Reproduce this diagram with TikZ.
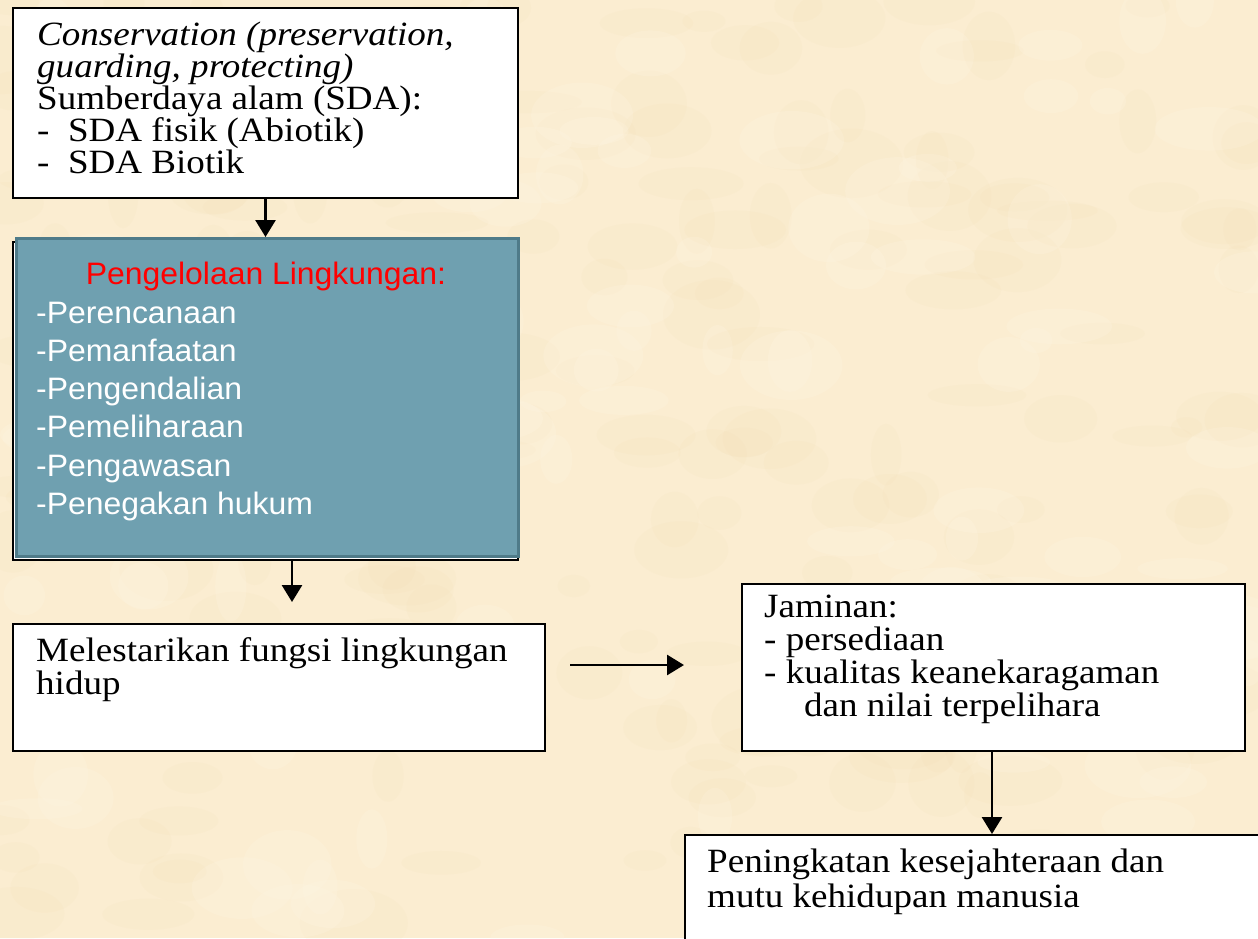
\documentclass[tikz,border=0pt]{standalone}
\usepackage{fontspec}
\setmainfont{Liberation Serif}[FakeStretch=1.09]
\newfontfamily\arialfont{Liberation Sans}[FakeStretch=1.03]
\usetikzlibrary{arrows.meta}
\definecolor{bgcream}{HTML}{FBEDD1}
\definecolor{bgtan}{HTML}{E9CB98}
\definecolor{bglight}{HTML}{FFF7E6}
\definecolor{tealfill}{HTML}{6FA0B0}
\definecolor{tealedge}{HTML}{4F7B89}
\definecolor{headred}{HTML}{FF0000}
\begin{document}
\begin{tikzpicture}[x=1pt,y=-1pt,
  box/.style={draw=black, line width=2pt, fill=white, inner sep=0pt, anchor=north west},
  arr/.style={line width=2.8pt, -{Triangle[width=20pt,length=17pt]}},
  txt/.style={anchor=base west, inner sep=0pt},
  serif/.style={font=\fontsize{34}{33}\selectfont},
  sans/.style={font=\arialfont\fontsize{31}{38.3}\selectfont, text=white}]
\fill[bgcream] (0,0) rectangle (1258,938);
\begin{scope}
\clip (0,0) rectangle (1258,938);
\pgfmathsetseed{11}
\foreach \i in {1,...,220}{
  \pgfmathsetmacro{\px}{rnd*1258}
  \pgfmathsetmacro{\py}{rnd*938}
  \pgfmathsetmacro{\rx}{15+rnd*40}
  \pgfmathsetmacro{\ry}{10+rnd*25}
  \fill[bgtan, opacity=0.06] (\px,\py) ellipse [x radius=\rx, y radius=\ry];
}
\foreach \i in {1,...,120}{
  \pgfmathsetmacro{\px}{rnd*1258}
  \pgfmathsetmacro{\py}{rnd*938}
  \pgfmathsetmacro{\rx}{15+rnd*40}
  \pgfmathsetmacro{\ry}{10+rnd*25}
  \fill[bglight, opacity=0.2] (\px,\py) ellipse [x radius=\rx, y radius=\ry];
}
\end{scope}
\useasboundingbox (0,0) rectangle (1258,938);

% boxes
\node[box, minimum width=505pt, minimum height=190pt] (top) at (12,7) {};
\node[box, minimum width=505pt, minimum height=318pt] (frame) at (12,241) {};
\node[box, fill=tealfill, draw=tealedge, line width=3pt, minimum width=502pt, minimum height=318pt] (mgmt) at (15,237) {};
\node[box, minimum width=532pt, minimum height=127pt] (lestari) at (12,623) {};
\node[box, minimum width=503pt, minimum height=167pt] (jaminan) at (741,583) {};
\node[box, minimum width=600pt, minimum height=150pt] (mutu) at (684,834) {};

% texts
\node[txt, serif, font=\fontsize{34}{32}\selectfont] (ttop) at (37,45) {\parbox[t]{480pt}{\itshape Conservation (preservation,\\ guarding, protecting)\\ \upshape Sumberdaya alam (SDA):\\ -\ \ SDA fisik (Abiotik)\\ -\ \ SDA Biotik}};
\node[txt, sans, text=headred, anchor=base] (thead) at (266,284) {Pengelolaan Lingkungan:};
\node[txt, sans] (tmgmt) at (36,323) {\parbox[t]{470pt}{-Perencanaan\\ -Pemanfaatan\\ -Pengendalian\\ -Pemeliharaan\\ -Pengawasan\\ -Penegakan hukum}};
\node[txt, serif] (tlestari) at (36,661) {\parbox[t]{500pt}{Melestarikan fungsi lingkungan\\ hidup}};
\node[txt, serif] (tjaminan) at (764,617) {\parbox[t]{470pt}{Jaminan:\\ - persediaan\\ - kualitas keanekaragaman\\ \hspace*{40pt}dan nilai terpelihara}};
\node[txt, serif, font=\fontsize{34}{35}\selectfont] (tmutu) at (707,872) {\parbox[t]{540pt}{Peningkatan kesejahteraan dan\\ mutu kehidupan manusia}};

% connectors
\coordinate (a2end) at (292,602);
\coordinate (a3start) at (570,665);
\coordinate (a3end) at (684,665);
\coordinate (x4) at (992,0);
\draw[arr] (top.south) -- (top.south |- mgmt.north);
\draw[arr] (frame.south -| a2end) -- (a2end);
\draw[arr] (a3start) -- (a3end);
\draw[arr] (jaminan.south -| x4) -- (mutu.north -| x4);
\end{tikzpicture}
\end{document}
